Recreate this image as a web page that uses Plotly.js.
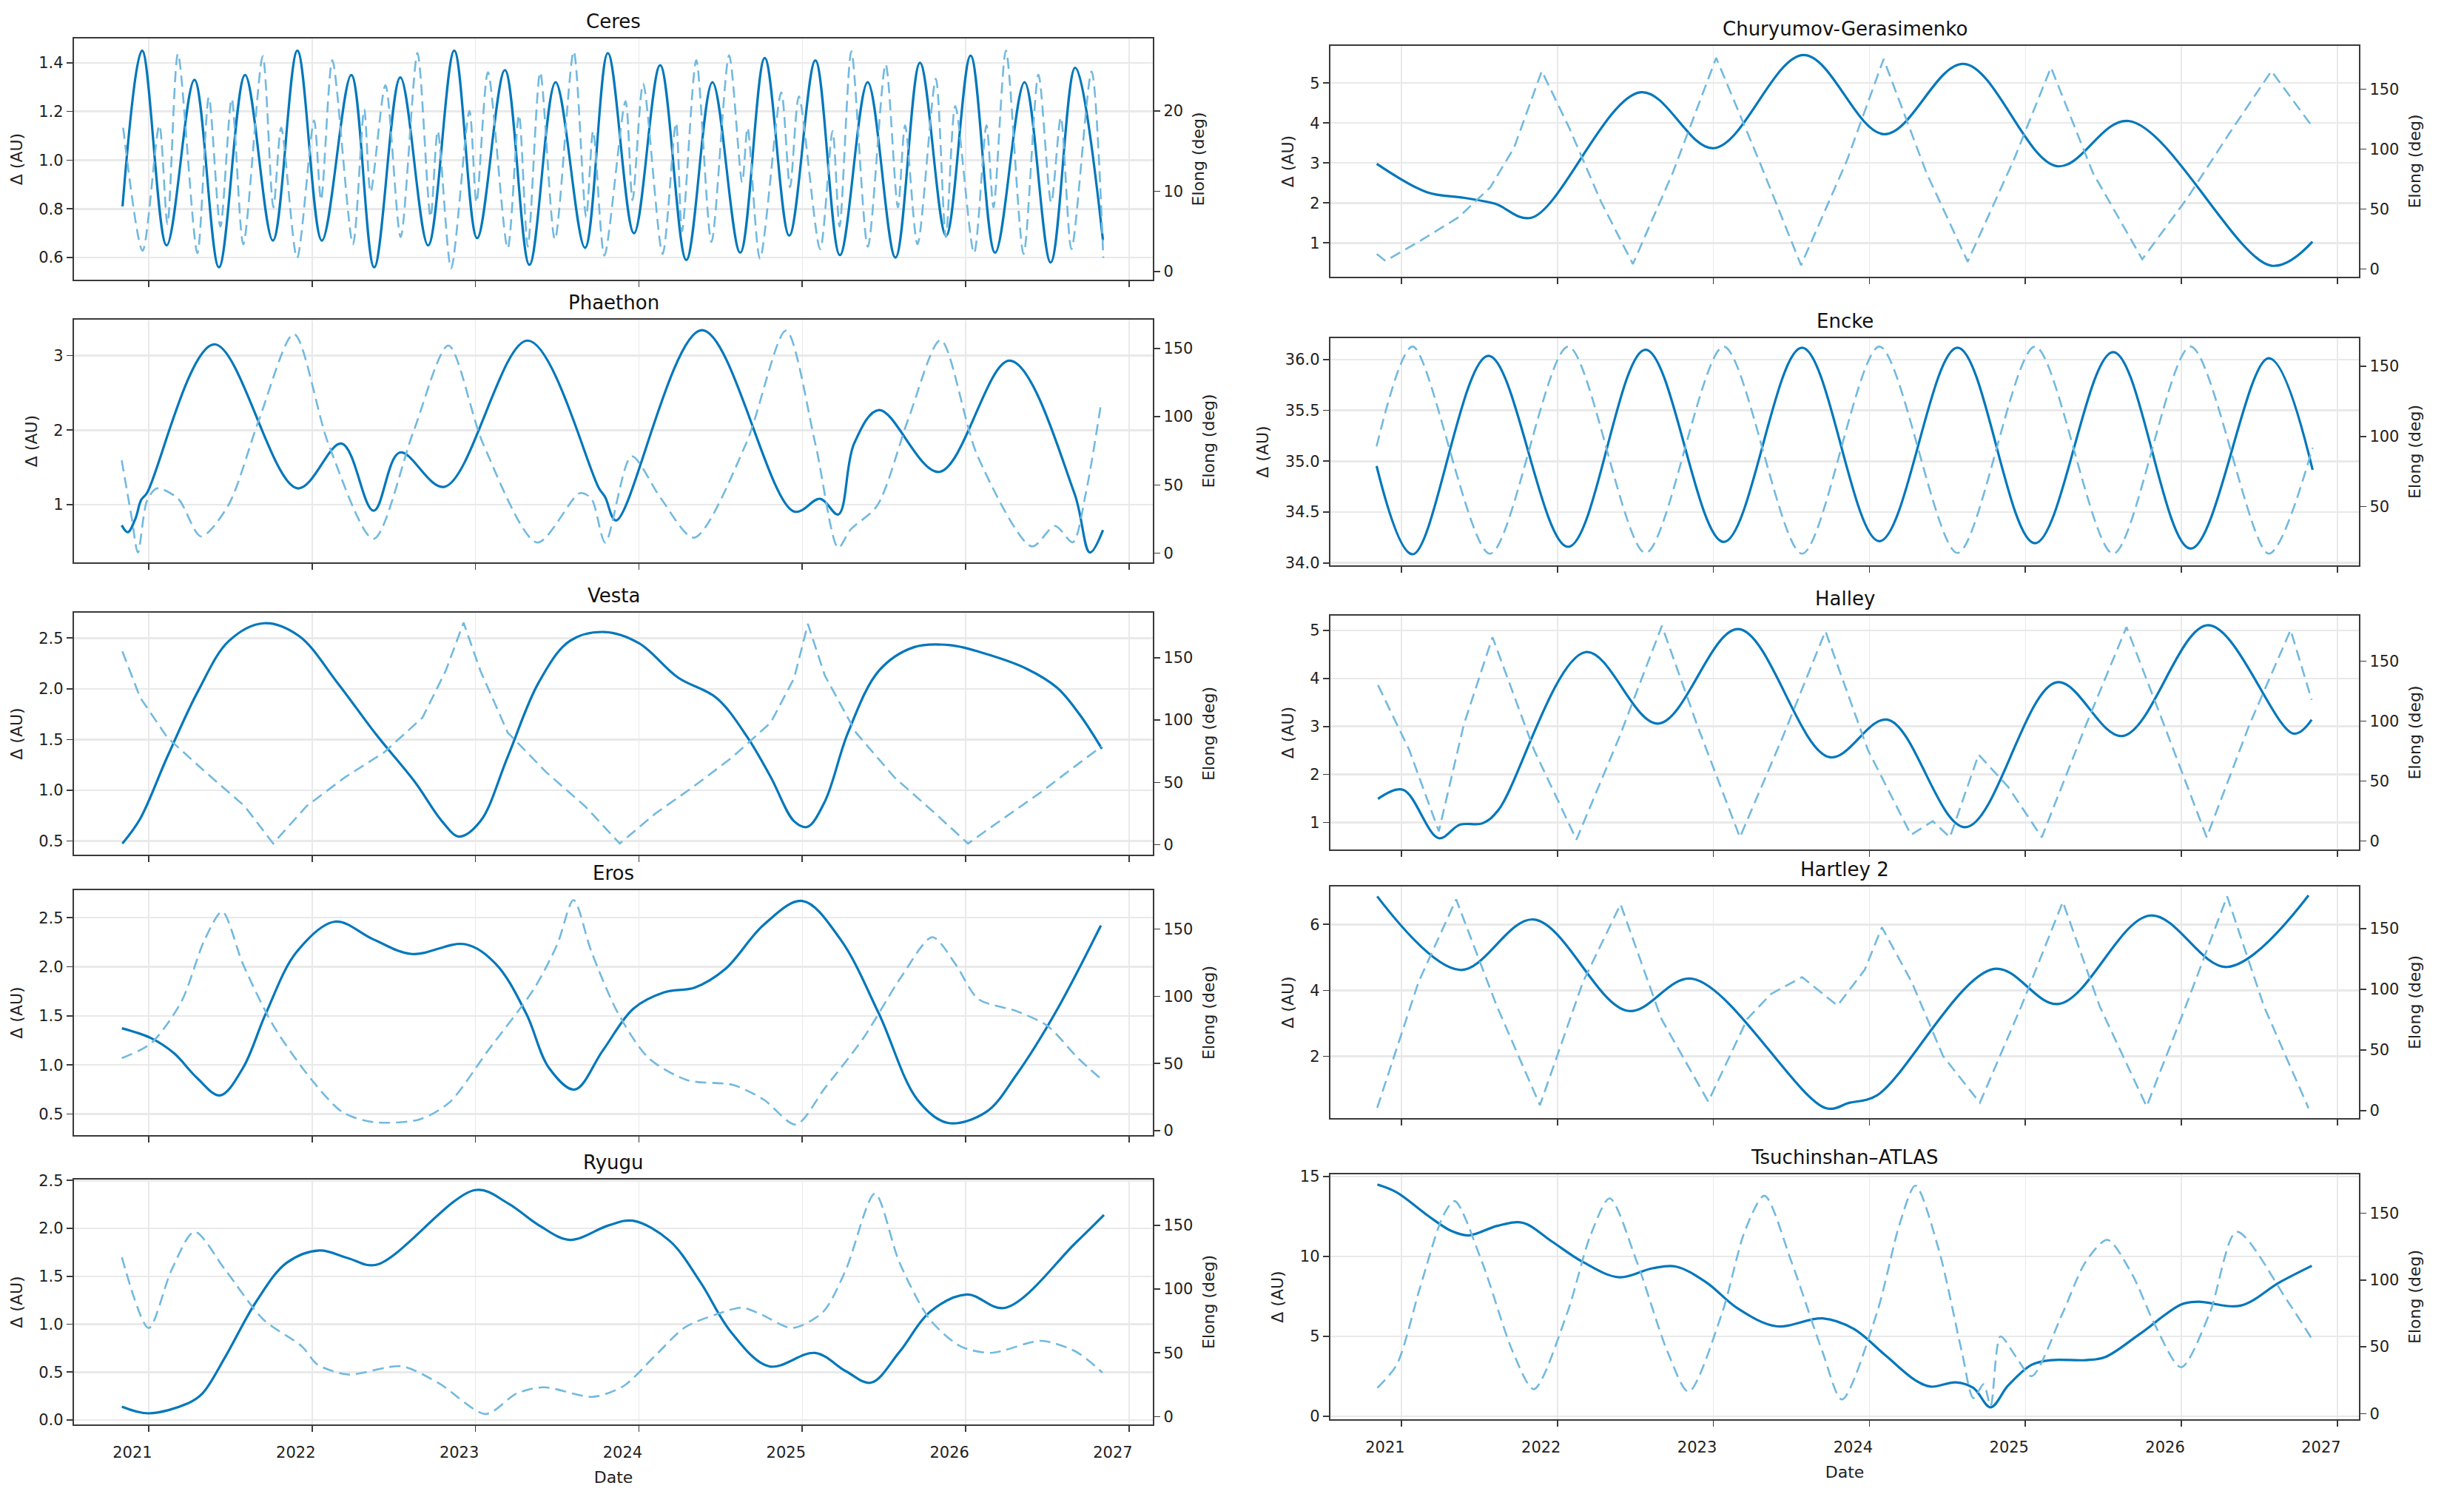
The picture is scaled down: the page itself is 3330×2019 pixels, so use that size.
<!DOCTYPE html>
<html><head><meta charset="utf-8">
<script src="https://cdn.plot.ly/plotly-3.0.1.min.js"></script>
<style>html,body{margin:0;padding:0;background:#fff}#chart{width:3330px;height:2019px}</style>
</head><body><div id="chart"></div>
<script>
// ---------------- DATA (decimal years) ----------------
const yearTicks = [2021, 2022, 2023, 2024, 2025, 2026, 2027];
const yearLabels = ['2021', '2022', '2023', '2024', '2025', '2026', '2027'];

const ceresT = [2020.84,2020.96,2021.11,2021.28,2021.43,2021.59,2021.76,2021.91,2022.06,2022.24,2022.38,2022.54,2022.71,2022.87,2023.01,2023.18,2023.33,2023.49,2023.67,2023.81,2023.97,2024.13,2024.29,2024.45,2024.62,2024.77,2024.92,2025.08,2025.23,2025.40,2025.57,2025.72,2025.88,2026.03,2026.18,2026.36,2026.52,2026.67,2026.84];
const ceresDelta = [0.81,1.45,0.65,1.33,0.56,1.35,0.67,1.45,0.67,1.35,0.56,1.34,0.65,1.45,0.68,1.37,0.57,1.32,0.64,1.44,0.70,1.39,0.59,1.32,0.62,1.42,0.69,1.41,0.61,1.32,0.60,1.40,0.69,1.43,0.62,1.32,0.58,1.38,0.67];
const ceresElongT = [2020.844,2020.963,2021.065,2021.115,2021.179,2021.298,2021.368,2021.439,2021.508,2021.579,2021.698,2021.763,2021.811,2021.908,2022.012,2022.055,2022.124,2022.250,2022.319,2022.358,2022.449,2022.542,2022.645,2022.725,2022.769,2022.851,2022.963,2023.006,2023.076,2023.197,2023.266,2023.320,2023.396,2023.486,2023.601,2023.677,2023.720,2023.789,2023.918,2023.961,2024.026,2024.145,2024.227,2024.264,2024.351,2024.444,2024.552,2024.632,2024.665,2024.741,2024.871,2024.925,2024.979,2025.109,2025.185,2025.228,2025.300,2025.401,2025.510,2025.585,2025.629,2025.705,2025.817,2025.878,2025.936,2026.051,2026.127,2026.170,2026.246,2026.354,2026.445,2026.523,2026.582,2026.647,2026.770,2026.842];
const ceresElong = [17.9,2.6,18.2,5.9,27.1,2.3,21.7,5.6,21.5,3.4,26.8,8.0,17.9,1.7,18.8,8.9,26.3,3.4,20.2,9.9,23.2,4.3,27.2,6.8,17.5,0.4,20.0,8.6,24.8,2.9,19.5,3.1,24.8,4.0,27.4,6.8,17.5,2.0,21.2,8.9,23.4,2.2,18.5,5.0,26.3,3.7,26.9,11.1,17.9,1.6,22.3,10.5,21.8,2.8,17.5,5.6,27.4,3.1,25.8,8.0,18.2,3.4,24.0,4.3,20.6,2.3,18.2,8.0,27.5,2.2,24.5,8.6,19.2,2.8,24.9,1.7];

const phaethonT = [2020.835,2020.872,2020.92,2020.953,2020.99,2021.40,2021.91,2022.18,2022.376,2022.537,2022.81,2023.32,2023.756,2023.794,2023.86,2024.385,2024.948,2025.11,2025.22,2025.317,2025.47,2025.837,2026.27,2026.664,2026.76,2026.84];
const phaethonDelta = [0.725,0.632,0.82,1.06,1.16,3.15,1.22,1.82,0.92,1.70,1.24,3.20,1.22,1.10,0.79,3.34,0.91,1.08,0.87,1.82,2.27,1.44,2.93,1.16,0.36,0.66];
const phaethonElongT = [2020.835,2020.896,2020.934,2020.99,2021.05,2021.18,2021.32,2021.487,2021.676,2021.889,2022.10,2022.376,2022.62,2022.834,2023.047,2023.378,2023.638,2023.709,2023.794,2023.955,2024.135,2024.338,2024.655,2024.90,2025.08,2025.22,2025.293,2025.459,2025.648,2025.846,2026.073,2026.404,2026.546,2026.655,2026.735,2026.83];
const phaethonElong = [68,26,0.5,38.5,47.5,40,12.3,35,98,160.5,80,10.5,89,152,80,7.8,44,40,7.8,71,40,11.4,80,163,80,4,17,35,98,156,71,5,20,8,44,111];

const vestaT = [2020.839,2020.948,2021.114,2021.303,2021.49,2021.705,2021.92,2022.155,2022.392,2022.63,2022.795,2022.90,2023.03,2023.197,2023.386,2023.576,2023.79,2024.0,2024.24,2024.475,2024.665,2024.807,2024.95,2025.03,2025.138,2025.28,2025.47,2025.683,2025.905,2026.133,2026.37,2026.56,2026.70,2026.833];
const vestaDelta = [0.476,0.72,1.33,1.98,2.47,2.646,2.52,2.06,1.55,1.08,0.695,0.544,0.695,1.33,2.06,2.47,2.56,2.45,2.11,1.91,1.52,1.13,0.695,0.64,0.89,1.57,2.18,2.41,2.43,2.34,2.2,2.01,1.74,1.41];
const vestaElongT = [2020.839,2020.948,2021.114,2021.35,2021.587,2021.762,2021.966,2022.20,2022.44,2022.676,2022.818,2022.927,2023.03,2023.197,2023.434,2023.67,2023.883,2024.10,2024.333,2024.57,2024.807,2024.95,2025.034,2025.138,2025.328,2025.564,2025.80,2026.014,2026.227,2026.464,2026.70,2026.833];
const vestaElong = [155,118,86,58,31,1,31,54,74,102,139.5,178,139.5,90,58,31,1,25,46.5,70,98,133.6,177,135.6,90,54,26.7,1,20.8,42.5,66,79];

const erosT = [2020.836,2021.014,2021.155,2021.295,2021.436,2021.577,2021.717,2021.905,2022.14,2022.374,2022.61,2022.936,2023.124,2023.31,2023.45,2023.607,2023.78,2023.967,2024.155,2024.343,2024.53,2024.765,2025.0,2025.233,2025.468,2025.703,2025.89,2026.124,2026.31,2026.546,2026.827];
const erosDelta = [1.374,1.274,1.12,0.87,0.69,0.97,1.525,2.15,2.46,2.28,2.13,2.23,2.03,1.525,0.97,0.75,1.15,1.575,1.74,1.79,1.98,2.43,2.67,2.28,1.525,0.65,0.41,0.52,0.9,1.525,2.42];
const erosElongT = [2020.836,2021.014,2021.20,2021.342,2021.45,2021.577,2021.764,2021.999,2022.186,2022.374,2022.655,2022.84,2023.077,2023.358,2023.50,2023.60,2023.71,2023.874,2024.06,2024.296,2024.577,2024.765,2024.96,2025.14,2025.374,2025.608,2025.796,2025.937,2026.077,2026.31,2026.5,2026.687,2026.827];
const erosElong = [54,65,96,142,163,124,78,37.6,13.8,6.4,8.3,21,59.7,105.6,138.6,171.7,133,87,54,37.6,34,23,4.6,32,69,115,144,124,98,89,78,54,38.6];

const ryuguT = [2020.836,2021.0,2021.234,2021.328,2021.469,2021.656,2021.844,2022.045,2022.219,2022.392,2023.0,2023.20,2023.39,2023.578,2023.813,2023.963,2024.188,2024.376,2024.563,2024.797,2025.079,2025.266,2025.42,2025.594,2025.782,2026.007,2026.24,2026.673,2026.846];
const ryuguDelta = [0.14,0.07,0.17,0.276,0.66,1.23,1.64,1.77,1.69,1.62,2.40,2.26,2.03,1.88,2.03,2.08,1.87,1.44,0.92,0.56,0.70,0.51,0.39,0.71,1.13,1.31,1.17,1.85,2.14];
const ryuguElongT = [2020.836,2021.0,2021.14,2021.28,2021.469,2021.703,2021.938,2022.031,2022.219,2022.547,2022.78,2023.063,2023.25,2023.414,2023.72,2023.907,2024.094,2024.282,2024.47,2024.633,2024.75,2024.938,2025.126,2025.266,2025.444,2025.594,2025.782,2025.97,2026.157,2026.462,2026.673,2026.837];
const ryuguElong = [125,69.5,115,145,115,76,55,41,33,39.4,25.8,2,18,23,15.5,24,47,70,80,85.4,80,69.5,82,115,175,121,76,55,50,59.4,51,34.5];

const cgT = [2020.842,2021.163,2021.40,2021.60,2021.834,2022.535,2023.003,2023.578,2024.096,2024.605,2025.204,2025.662,2026.577,2026.84];
const cgDelta = [2.98,2.27,2.13,1.98,1.63,4.77,3.37,5.70,3.72,5.48,2.92,4.05,0.43,1.03];
const cgElongT = [2020.842,2020.898,2021.112,2021.366,2021.57,2021.722,2021.90,2022.078,2022.281,2022.484,2022.739,2023.018,2023.298,2023.562,2023.857,2024.091,2024.366,2024.63,2024.925,2025.164,2025.433,2025.749,2026.043,2026.297,2026.577,2026.84];
const cgElong = [12.4,6.6,22.7,43,68,101,165,117,55.6,4,80,176,88.6,3,90.7,175,80,6,90.7,168,80,8,60,111,165,118.5];

const enckeT = [2020.841,2021.072,2021.558,2022.069,2022.565,2023.066,2023.568,2024.064,2024.565,2025.061,2025.563,2026.059,2026.56,2026.841];
const enckeDelta = [34.953,34.085,36.036,34.158,36.097,34.206,36.116,34.213,36.116,34.194,36.073,34.14,36.012,34.916];
const enckeElongT = [2020.841,2021.072,2021.568,2022.069,2022.565,2023.066,2023.568,2024.064,2024.565,2025.061,2025.563,2026.059,2026.56,2026.841];
const enckeElong = [93,164,16.5,164,17,164,16.5,164,17,164,16.5,164,16.5,92];

const halleyT = [2020.85,2021.01,2021.24,2021.374,2021.52,2021.62,2022.182,2022.646,2023.16,2023.743,2024.117,2024.616,2025.2,2025.623,2026.172,2026.72,2026.835];
const halleyDelta = [1.49,1.68,0.67,0.95,0.98,1.25,4.55,3.06,5.03,2.36,3.14,0.90,3.92,2.80,5.11,2.85,3.14];
const halleyElongT = [2020.85,2021.05,2021.24,2021.40,2021.584,2021.85,2022.122,2022.397,2022.67,2022.895,2023.17,2023.444,2023.718,2023.99,2024.267,2024.406,2024.516,2024.70,2024.89,2025.105,2025.389,2025.648,2025.888,2026.162,2026.436,2026.70,2026.835];
const halleyElong = [130,76,8,97,170,76,1,86.6,179.5,97,3,86.6,175,76,5,16.5,3,72,45,3,97,178.5,97,3,97,176,117.6];

const hartleyT = [2020.845,2021.376,2021.848,2022.45,2022.866,2023.72,2023.87,2024.05,2024.798,2025.215,2025.80,2026.293,2026.815];
const hartleyDelta = [6.85,4.62,6.15,3.38,4.35,0.43,0.59,0.82,4.65,3.59,6.27,4.71,6.88];
const hartleyElongT = [2020.845,2021.11,2021.351,2021.612,2021.888,2022.164,2022.405,2022.666,2022.967,2023.218,2023.368,2023.569,2023.795,2023.97,2024.08,2024.271,2024.472,2024.708,2024.974,2025.24,2025.476,2025.777,2026.028,2026.293,2026.529,2026.815];
const hartleyElong = [2.4,106,174,86,4.5,106,170,75.7,7.5,75.7,96,110,86.5,116,151,106,45,6.5,86,172,86,3.5,86,176.5,86,2];

const taT = [2020.846,2020.97,2021.169,2021.318,2021.432,2021.615,2021.779,2021.963,2022.161,2022.395,2022.608,2022.757,2022.955,2023.154,2023.402,2023.70,2023.898,2024.097,2024.295,2024.395,2024.553,2024.667,2024.777,2024.89,2025.04,2025.164,2025.387,2025.511,2025.734,2026.0,2026.107,2026.38,2026.628,2026.836];
const taDelta = [14.49,14.0,12.55,11.6,11.31,11.91,12.10,10.94,9.66,8.69,9.25,9.37,8.37,6.76,5.63,6.12,5.47,3.86,2.25,1.85,2.12,1.77,0.56,1.93,3.22,3.51,3.51,3.70,5.15,7.0,7.16,6.92,8.37,9.41];
const taElongT = [2020.846,2020.97,2021.12,2021.268,2021.342,2021.516,2021.715,2021.849,2022.062,2022.211,2022.335,2022.509,2022.707,2022.841,2023.055,2023.203,2023.327,2023.50,2023.70,2023.824,2024.047,2024.196,2024.295,2024.444,2024.593,2024.667,2024.732,2024.777,2024.84,2024.94,2025.04,2025.238,2025.387,2025.526,2025.685,2025.834,2025.998,2026.181,2026.355,2026.677,2026.836];
const taElong = [19.3,36.6,94.5,148,159,113.7,46,18.3,75,133,161,113.7,46,16.4,75,137,163,113.7,46,10.6,75,142.7,170.6,123,46,11.6,22,5.8,57.8,42.4,28,75,113.7,130,104,65.5,34.7,75,136,84.8,56];

// ---------------- LAYOUT CONFIG ----------------
const W = 3330, H = 2019;
const colX = [[100, 1558], [1798, 3188]];
const colXRange = [[2020.543, 2027.145], [2020.545, 2027.138]];

const panels = [
  {title:'Ceres', t:ceresT, d:ceresDelta, et:ceresElongT, e:ceresElong, col:0, top:52, bot:378, yr:[0.509,1.50], y2r:[-1.0,29.0], dt:0.2, t0:0.6, fmt:'.1f', dt2:10, eShape:'spline'},
  {title:'Phaethon', t:phaethonT, d:phaethonDelta, et:phaethonElongT, e:phaethonElong, col:0, top:432, bot:760, yr:[0.228,3.48], y2r:[-6.7,171], dt:1, t0:1, fmt:'d', dt2:50, eShape:'spline'},
  {title:'Vesta', t:vestaT, d:vestaDelta, et:vestaElongT, e:vestaElong, col:0, top:828, bot:1155, yr:[0.366,2.75], y2r:[-7.9,186], dt:0.5, t0:0.5, fmt:'.1f', dt2:50, eShape:'linear'},
  {title:'Eros', t:erosT, d:erosDelta, et:erosElongT, e:erosElong, col:0, top:1203, bot:1534, yr:[0.286,2.78], y2r:[-3.3,179], dt:0.5, t0:0.5, fmt:'.1f', dt2:50, eShape:'spline'},
  {title:'Ryugu', t:ryuguT, d:ryuguDelta, et:ryuguElongT, e:ryuguElong, col:0, top:1594, bot:1925, yr:[-0.046,2.51], y2r:[-6.2,186], dt:0.5, t0:0, fmt:'.1f', dt2:50, eShape:'spline', bottom:true},
  {title:'Churyumov-Gerasimenko', t:cgT, d:cgDelta, et:cgElongT, e:cgElong, col:1, top:62, bot:374, yr:[0.153,5.93], y2r:[-6.6,186], dt:1, t0:1, fmt:'d', dt2:50, eShape:'linear'},
  {title:'Encke', t:enckeT, d:enckeDelta, et:enckeElongT, e:enckeElong, col:1, top:457, bot:764, yr:[33.976,36.21], y2r:[8.2,170], dt:0.5, t0:34, fmt:'.1f', dt2:50, eShape:'spline'},
  {title:'Halley', t:halleyT, d:halleyDelta, et:halleyElongT, e:halleyElong, col:1, top:832, bot:1148, yr:[0.434,5.31], y2r:[-7.2,188], dt:1, t0:1, fmt:'d', dt2:50, eShape:'linear'},
  {title:'Hartley 2', t:hartleyT, d:hartleyDelta, et:hartleyElongT, e:hartleyElong, col:1, top:1198, bot:1511, yr:[0.127,7.15], y2r:[-6.1,184.6], dt:2, t0:2, fmt:'d', dt2:50, eShape:'linear'},
  {title:'Tsuchinshan–ATLAS', t:taT, d:taDelta, et:taElongT, e:taElong, col:1, top:1587, bot:1918, yr:[-0.19,15.13], y2r:[-4.2,179], dt:5, t0:0, fmt:'d', dt2:50, eShape:'spline', bottom:true}
];

const FONT = 'DejaVu Sans, Liberation Sans, sans-serif';
const SOLID = '#0077BB';
const DASHED = '#72B9DF';
const FRAME = '#3a3a3a';
const GRID = '#e9e9e9';

const axisBase = {
  showline:true, linecolor:FRAME, linewidth:2.2, ticks:'outside', ticklen:8, tickwidth:1.6,
  tickcolor:FRAME, tickfont:{family:FONT, size:21, color:'#222'}, zeroline:false, automargin:false
};

const traces = [];
const layout = {
  width:W, height:H, margin:{l:0, r:0, t:0, b:0}, paper_bgcolor:'#fff', plot_bgcolor:'#fff',
  showlegend:false, font:{family:FONT, color:'#222'}, annotations:[]
};

function ref(prefix, n){ return prefix + (n === 1 ? '' : n); }

panels.forEach((p, k) => {
  const xi = k + 1, yi = 2*k + 1, y2i = 2*k + 2;
  const xd = [colX[p.col][0]/W, colX[p.col][1]/W];
  const yd = [1 - p.bot/H, 1 - p.top/H];

  layout[ref('xaxis', xi)] = Object.assign({}, axisBase, {
    domain:xd, anchor:ref('y', yi), range:colXRange[p.col], mirror:true,
    tickmode:'array', tickvals:yearTicks, ticktext:yearLabels,
    showticklabels:!!p.bottom, showgrid:true, gridcolor:GRID, gridwidth:1.5,
    ticklabelshift:-22, ticklabelstandoff:10,
    title: p.bottom ? {text:'Date', font:{family:FONT, size:22, color:'#222'}, standoff:14} : {text:''}
  });
  layout[ref('yaxis', yi)] = Object.assign({}, axisBase, {
    domain:yd, anchor:ref('x', xi), range:p.yr, mirror:true,
    tickmode:'linear', tick0:p.t0, dtick:p.dt, tickformat:p.fmt,
    showgrid:true, gridcolor:GRID, gridwidth:2.5,
    title:{text:'Δ (AU)', font:{family:FONT, size:22, color:'#222'}, standoff:16}
  });
  layout[ref('yaxis', y2i)] = Object.assign({}, axisBase, {
    domain:yd, anchor:ref('x', xi), overlaying:ref('y', yi), side:'right', range:p.y2r,
    tickmode:'linear', tick0:0, dtick:p.dt2, tickformat:'d', showgrid:false,
    title:{text:'Elong (deg)', font:{family:FONT, size:22, color:'#222'}, standoff:14}
  });

  traces.push({
    x:p.t, y:p.d, xaxis:ref('x', xi), yaxis:ref('y', yi), type:'scatter', mode:'lines',
    line:{color:SOLID, width:3.2, shape:'spline', smoothing:1}, hoverinfo:'skip'
  });
  traces.push({
    x:p.et, y:p.e, xaxis:ref('x', xi), yaxis:ref('y', y2i), type:'scatter', mode:'lines',
    line:{color:DASHED, width:2.6, dash:'15px,8px', shape:p.eShape, smoothing:0.8}, hoverinfo:'skip'
  });

  layout.annotations.push({
    text:p.title, xref:'paper', yref:'paper', x:(xd[0]+xd[1])/2, y:1 - (p.top - 23)/H,
    xanchor:'center', yanchor:'middle', showarrow:false,
    font:{family:FONT, size:26, color:'#111'}
  });
});

Plotly.newPlot('chart', traces, layout, {staticPlot:true, displayModeBar:false});
</script>
</body></html>
